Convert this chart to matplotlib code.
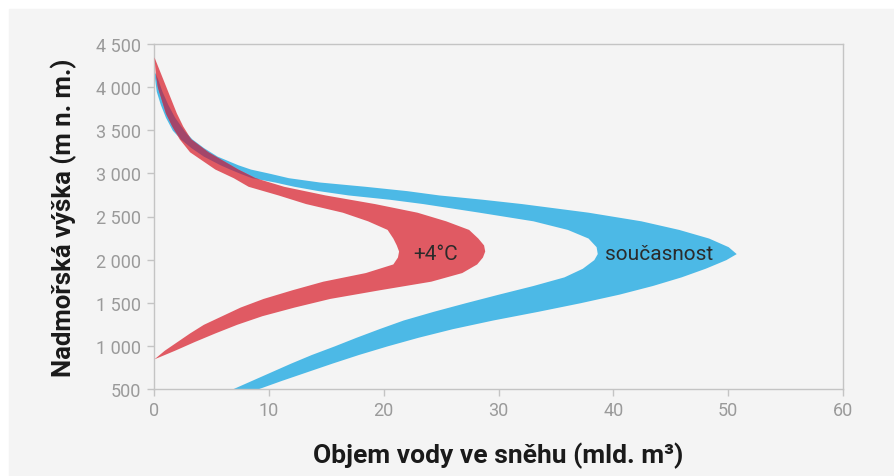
import numpy as np
import matplotlib.pyplot as plt
from matplotlib.patches import Rectangle
from matplotlib.ticker import FuncFormatter

# současnost (blue band): altitude, left edge, right edge
blue_h = [400, 500, 600, 700, 800, 900, 1000, 1100, 1200, 1300, 1400, 1500, 1600,
          1700, 1800, 1900, 2000, 2070, 2150, 2250, 2350, 2450, 2550, 2650, 2700,
          2750, 2800, 2850, 2900, 2950, 3000, 3050, 3100, 3200, 3300, 3400, 3500,
          3650, 3800, 3950, 4100, 4190]
blue_lo = [5.1, 6.8, 8.5, 10.2, 11.9, 13.7, 15.7, 17.6, 19.6, 21.7, 24.3, 27.1, 30.0,
           33.0, 35.7, 37.3, 38.3, 38.6, 38.5, 37.8, 36.0, 33.0, 28.3, 23.4, 20.5,
           16.9, 14.3, 12.2, 10.5, 8.5, 7.5, 6.6, 5.75, 4.3, 3.2, 2.3, 1.6,
           1.0, 0.55, 0.2, 0.05, 0.0]
blue_hi = [6.8, 9.0, 11.1, 13.3, 15.5, 17.8, 20.3, 23.0, 26.0, 29.5, 33.4, 37.1, 40.5,
           43.4, 45.9, 48.0, 49.8, 50.7, 50.0, 48.3, 45.7, 42.4, 37.8, 32.0, 28.6,
           24.8, 22.0, 18.4, 14.4, 11.7, 10.1, 8.4, 7.3, 5.5, 4.3, 3.3, 2.6,
           1.8, 1.2, 0.7, 0.3, 0.0]

# +4 °C (red band)
red_h = [850, 950, 1050, 1150, 1250, 1350, 1450, 1550, 1650, 1750, 1850, 1950, 2030,
         2100, 2170, 2250, 2350, 2450, 2550, 2650, 2750, 2850, 2950, 3050, 3150,
         3250, 3400, 3550, 3700, 3850, 4000, 4150, 4350]
red_lo = [0.0, 0.9, 2.0, 3.1, 4.3, 5.9, 7.5, 9.5, 12.0, 14.7, 18.4, 20.8, 21.2,
          21.3, 21.1, 20.8, 20.3, 18.6, 16.4, 13.2, 10.8, 8.2, 6.9, 5.3, 4.2,
          3.1, 2.2, 1.55, 1.0, 0.65, 0.3, 0.12, 0.0]
red_hi = [0.0, 1.8, 3.5, 5.3, 7.2, 9.4, 12.2, 15.3, 19.6, 24.1, 26.8, 28.1, 28.6,
          28.8, 28.7, 28.2, 27.4, 25.4, 22.9, 19.2, 14.9, 11.3, 8.8, 7.3, 6.0,
          4.7, 3.2, 2.5, 1.95, 1.5, 1.05, 0.6, 0.0]

yticks = [500, 1000, 1500, 2000, 2500, 3000, 3500, 4000, 4500]
xticks = [0, 10, 20, 30, 40, 50, 60]

BG = '#f4f4f4'
BLUE = '#4cb9e6'
RED = '#e05a63'
DARK = '#a3466a'
GRID = '#c4c4c4'
TICK_TXT = '#9a9a9a'

plt.rcParams['font.family'] = ['Roboto', 'DejaVu Sans']

fig = plt.figure(figsize=(8.94, 4.77), dpi=100, facecolor='white')
fig.add_artist(Rectangle((9 / 894, 0), 1, (477 - 10) / 477,
                         transform=fig.transFigure, color=BG, zorder=-10))

ax = fig.add_axes([154 / 894, (477 - 390) / 477, (843 - 154) / 894, (390 - 45) / 477])
ax.set_facecolor(BG)

ax.fill_betweenx(blue_h, blue_lo, blue_hi, color=BLUE, lw=0, zorder=2)
ax.fill_betweenx(red_h, red_lo, red_hi, color=RED, lw=0, zorder=3)

# where the two bands overlap the colour gets darker
hh = np.union1d(blue_h, red_h).astype(float)
b_lo = np.interp(hh, blue_h, blue_lo, left=np.nan, right=np.nan)
b_hi = np.interp(hh, blue_h, blue_hi, left=np.nan, right=np.nan)
r_lo = np.interp(hh, red_h, red_lo, left=np.nan, right=np.nan)
r_hi = np.interp(hh, red_h, red_hi, left=np.nan, right=np.nan)
ov_lo = np.maximum(b_lo, r_lo)
ov_hi = np.minimum(b_hi, r_hi)
mask = np.nan_to_num(ov_hi - ov_lo) > 0
ax.fill_betweenx(hh, ov_lo, ov_hi, where=mask, interpolate=True,
                 color=DARK, lw=0, zorder=4)

ax.text(24.5, 2075, '+4°C', ha='center', va='center', fontsize=15, color='#2b2b2b', zorder=5)
ax.text(44.0, 2075, 'současnost', ha='center', va='center', fontsize=15, color='#2b2b2b', zorder=5)

ax.set_xlim(0, 60)
ax.set_ylim(500, 4500)
ax.set_xticks(xticks)
ax.set_yticks(yticks)
ax.yaxis.set_major_formatter(FuncFormatter(lambda v, pos: f'{v:,.0f}'.replace(',', ' ')))

for s in ax.spines.values():
    s.set_color(GRID)
    s.set_linewidth(1.0)
ax.tick_params(axis='both', colors=GRID, labelcolor=TICK_TXT, labelsize=13,
               length=5, width=1.0, pad=4)

ax.set_xlabel('Objem vody ve sněhu (mld. m³)', fontsize=19, fontweight='bold',
              color='#1a1a1a', labelpad=16)
ax.set_ylabel('Nadmořská výška (m n. m.)', fontsize=18.5, fontweight='bold',
              color='#1a1a1a', labelpad=14)

fig.savefig('out.png', dpi=100, facecolor=fig.get_facecolor())
